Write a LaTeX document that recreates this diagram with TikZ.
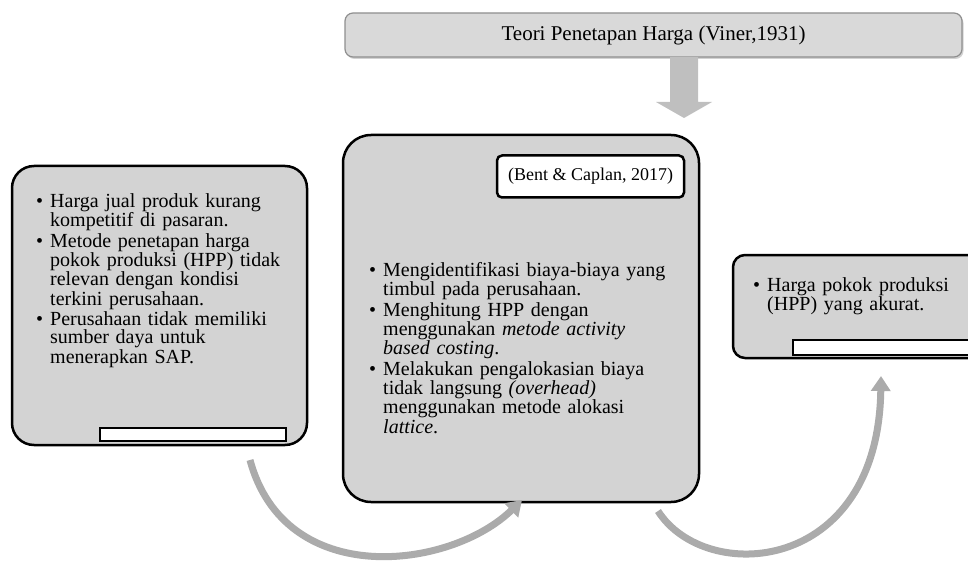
\documentclass[tikz,border=0pt]{standalone}
\usepackage{fontspec}
\setmainfont{Liberation Serif}
\usepackage{enumitem}
\setlist[itemize]{label=\textbullet,leftmargin=14pt,labelsep=7pt,itemsep=1.75pt,topsep=0pt,partopsep=0pt,parsep=0pt}
\usetikzlibrary{arrows.meta,shadows}
\definecolor{boxgray}{HTML}{D3D3D3}
\definecolor{titlegray}{HTML}{D9D9D9}
\definecolor{titleline}{HTML}{8F8F8F}
\definecolor{arrowgray}{HTML}{BFBFBF}
\definecolor{curvegray}{HTML}{ABABAB}
\setlength{\lineskiplimit}{-20pt}
\begin{document}
\begin{tikzpicture}[x=1pt,y=-1pt,
    box/.style={draw=black,line width=2.5pt,fill=boxgray,inner sep=0pt},
    bar/.style={draw=black,line width=2pt,fill=white,inner sep=0pt},
    txt/.style={anchor=north west,inner sep=0pt,text width=#1,align=left,font=\fontsize{20}{18}\selectfont},
    curve/.style={draw=curvegray,line width=7pt,-{Triangle[width=19pt,length=15pt]}}]
    \path[use as bounding box,clip] (0,0) rectangle (968,561);
    % top theory box and its arrow
    \node[draw=titleline,line width=1.2pt,fill=titlegray,rounded corners=8pt,minimum width=617pt,minimum height=44pt,
        drop shadow={shadow xshift=1.5pt,shadow yshift=-2pt,fill=black!35},font=\fontsize{21}{22}\selectfont]
        (theory) at (653.5,35) {Teori Penetapan Harga (Viner,1931)};
    \fill[arrowgray] (670,57) -- (698,57) -- (698,102) -- (712,102) -- (684,118) -- (656,102) -- (670,102) -- cycle;
    % left box
    \node[box,rounded corners=22pt,minimum width=295pt,minimum height=279pt] (problem) at (159.5,305.5) {};
    \node[bar,minimum width=186pt,minimum height=13pt] (problembar) at (193,434.5) {};
    \node[txt=265pt] (problemtext) at (36,189) {%
        \begin{itemize}
            \item Harga jual produk kurang\\ kompetitif di pasaran.
            \item Metode penetapan harga\\ pokok produksi (HPP) tidak\\ relevan dengan kondisi\\ terkini perusahaan.
            \item Perusahaan tidak memiliki\\ sumber daya untuk\\ menerapkan SAP.
        \end{itemize}};
    % middle box
    \node[box,rounded corners=28pt,minimum width=356pt,minimum height=367pt] (method) at (521,318.5) {};
    \node[draw,line width=2.5pt,fill=white,rounded corners=5pt,minimum width=187pt,minimum height=42pt,
        font=\fontsize{18}{20}\selectfont] (source) at (590.5,176.5) {(Bent \& Caplan, 2017)};
    \node[txt=320pt] (methodtext) at (369,258) {%
        \begin{itemize}
            \item Mengidentifikasi biaya-biaya yang\\ timbul pada perusahaan.
            \item Menghitung HPP dengan\\ menggunakan \textit{metode activity}\\ \textit{based costing}.
            \item Melakukan pengalokasian biaya\\ tidak langsung \textit{(overhead)}\\ menggunakan metode alokasi\\ \textit{lattice}.
        \end{itemize}};
    % right box
    \node[box,rounded corners=12pt,minimum width=260pt,minimum height=103pt] (result) at (863,306.5) {};
    \node[bar,minimum width=200pt,minimum height=15pt] (resultbar) at (893,347.5) {};
    \node[txt=220pt] (resulttext) at (753,273) {%
        \begin{itemize}
            \item Harga pokok produksi\\ (HPP) yang akurat.
        \end{itemize}};
    % curved arrows
    \coordinate (c1s) at (250,460);
    \coordinate (c1e) at (522,500);
    \draw[curve] (c1s) .. controls (285,590) and (450,570) .. (c1e);
    \coordinate (c2s) at (658,511);
    \coordinate (c2e) at (881,376);
    \draw[curve] (c2s) .. controls (705,585) and (878,575) .. (c2e);
\end{tikzpicture}
\end{document}
